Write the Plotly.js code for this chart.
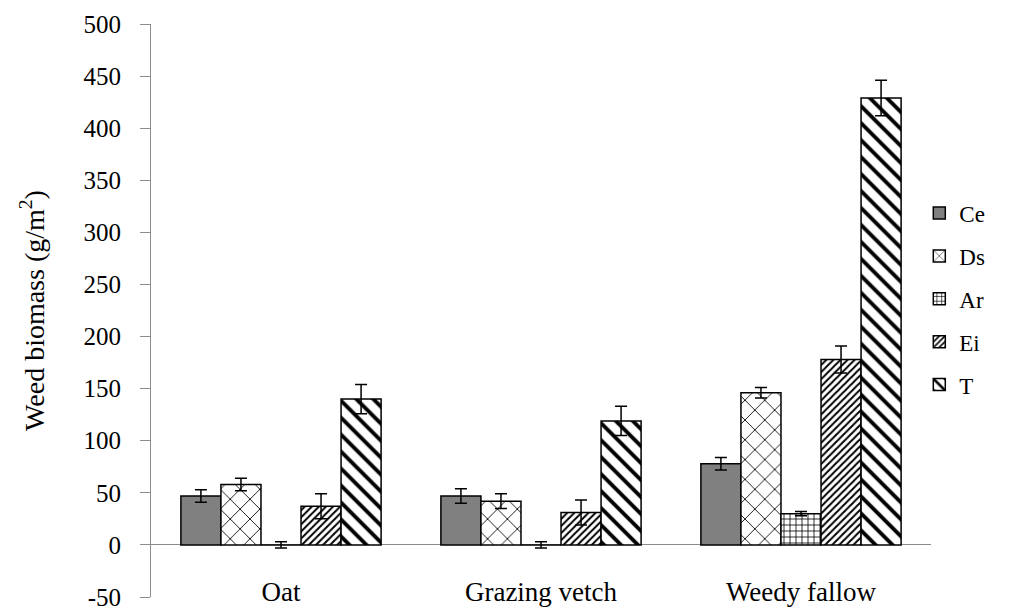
<!DOCTYPE html>
<html>
<head>
<meta charset="utf-8">
<script src="https://cdn.plot.ly/plotly-3.0.1.min.js"></script>
<style>html,body{margin:0;padding:0;background:#fff;}#chart{width:1014px;height:607px;}</style>
</head>
<body>
<div id="chart"></div>
<script>
const categories = ["Oat", "Grazing vetch", "Weedy fallow"];
const seriesNames = ["Ce", "Ds", "Ar", "Ei", "T"];
const ceValues = [47, 47, 78];
const ceErrors = [6, 7, 6];
const dsValues = [58, 42, 146];
const dsErrors = [6, 7, 5];
const arValues = [0, 0, 30];
const arErrors = [3, 3, 2];
const eiValues = [37, 31, 178];
const eiErrors = [12, 12, 13];
const tValues = [140, 119, 429];
const tErrors = [14, 14, 17];
const yTicks = [-50, 0, 50, 100, 150, 200, 250, 300, 350, 400, 450, 500];

const FONT = "'Liberation Serif', 'Times New Roman', serif";

const patterns = [
  {shape: "", bg: "#808080"},
  {shape: "x", size: 14, solidity: 0.12, bg: "#ffffff"},
  {shape: "+", size: 6, solidity: 0.25, bg: "#ffffff"},
  {shape: "/", size: 5, solidity: 0.4, bg: "#ffffff"},
  {shape: "\\", size: 12, solidity: 0.32, bg: "#ffffff"}
];
const vals = [ceValues, dsValues, arValues, eiValues, tValues];
const errs = [ceErrors, dsErrors, arErrors, eiErrors, tErrors];

const traces = seriesNames.map((name, i) => {
  const p = patterns[i];
  const marker = {color: p.bg, line: {color: "#000", width: 1.5}};
  if (p.shape) {
    marker.pattern = {shape: p.shape, size: p.size, solidity: p.solidity, fgcolor: "#000", bgcolor: "#fff", fillmode: "replace"};
  }
  return {
    type: "bar",
    name: name,
    legendgroup: name,
    x: categories,
    y: vals[i],
    marker: marker,
    error_y: {type: "data", array: errs[i], visible: true, color: "#000", thickness: 1.5, width: 6},
    hoverinfo: "x+y+name"
  };
});

const layout = {
  width: 1014,
  height: 607,
  margin: {l: 151, r: 83, t: 24, b: 10},
  paper_bgcolor: "#fff",
  plot_bgcolor: "#fff",
  barmode: "group",
  bargap: 0.23,
  bargroupgap: 0,
  showlegend: true,
  font: {family: FONT, color: "#000", size: 22},
  legend: {
    x: 0.985, xanchor: "left", y: 0.52, yanchor: "middle",
    font: {family: FONT, size: 23, color: "#000"},
    tracegroupgap: 10,
    bgcolor: "rgba(0,0,0,0)"
  },
  xaxis: {
    type: "category",
    range: [-0.5, 2.5],
    showline: false,
    ticks: "",
    showgrid: false,
    zeroline: false,
    ticklabelposition: "inside",
    ticklabeloverflow: "allow",
    ticklabelstandoff: -12,
    tickfont: {family: FONT, size: 27, color: "#000"}
  },
  yaxis: {
    range: [-50, 500],
    tickvals: yTicks,
    ticktext: yTicks.map(String),
    showline: true,
    linecolor: "#8c8c8c",
    linewidth: 1,
    ticks: "outside",
    ticklen: 10,
    tickcolor: "#8c8c8c",
    tickwidth: 1,
    showgrid: false,
    zeroline: true,
    zerolinecolor: "#8c8c8c",
    zerolinewidth: 1,
    ticklabelstandoff: 14,
    ticklabeloverflow: "allow",
    tickfont: {family: FONT, size: 25, color: "#000"},
    title: {text: "Weed biomass (g/m<sup>2</sup>)", font: {family: FONT, size: 28, color: "#000"}, standoff: 30}
  }
};

Plotly.newPlot("chart", traces, layout, {displayModeBar: false, staticPlot: true});
</script>
</body>
</html>
